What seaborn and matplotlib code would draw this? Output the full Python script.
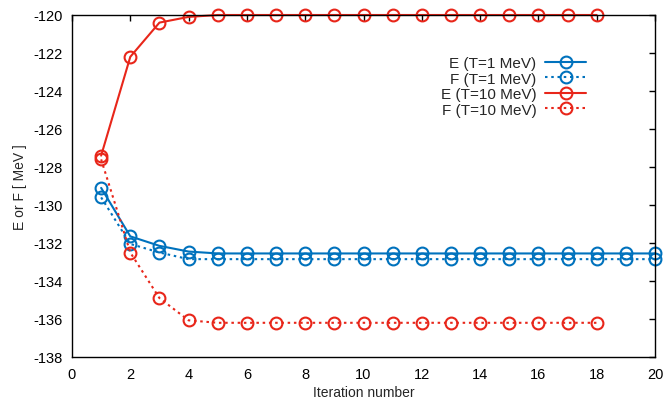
import numpy as np
import pandas as pd
import matplotlib
matplotlib.use("Agg")
import matplotlib.pyplot as plt
import seaborn as sns

iter_t1 = list(range(1, 21))
iter_t10 = list(range(1, 19))

E_T1 = [-129.1, -131.65, -132.15, -132.45] + [-132.55] * 16
F_T1 = [-129.6, -132.05, -132.5, -132.85] + [-132.85] * 16
E_T10 = [-127.4, -122.2, -120.4, -120.1] + [-120.0] * 14
F_T10 = [-127.6, -132.5, -134.9, -136.07] + [-136.2] * 14

labels = ["E (T=1 MeV)", "F (T=1 MeV)", "E (T=10 MeV)", "F (T=10 MeV)"]
xticks = list(range(0, 21, 2))
yticks = list(range(-138, -119, 2))

sns.set_theme(style="white")
plt.rcParams['font.family'] = ['Liberation Sans', 'DejaVu Sans']
plt.rcParams['axes.unicode_minus'] = False

fig = plt.figure(figsize=(6.63, 4.02), dpi=100)
ax = fig.add_axes([72/663, 1-358/402, (655-72)/663, (358-16)/402])

blue = "#0072bd"
red = "#e8261a"
series = [
    (iter_t1, E_T1, labels[0], blue, "-"),
    (iter_t1, F_T1, labels[1], blue, (0, (1.2, 1.8))),
    (iter_t10, E_T10, labels[2], red, "-"),
    (iter_t10, F_T10, labels[3], red, (0, (1.2, 1.8))),
]
for xs, ys, lab, col, ls in series:
    df = pd.DataFrame({"x": xs, "y": ys})
    sns.lineplot(data=df, x="x", y="y", ax=ax, color=col, linestyle=ls,
                 linewidth=1.5, marker="o", markersize=8.5,
                 markerfacecolor="none", markeredgecolor=col,
                 markeredgewidth=1.5, label=lab, clip_on=False)

ax.set_xlim(0, 20)
ax.set_ylim(-138, -120)
ax.set_xticks(xticks)
ax.set_yticks(yticks)
ax.set_xlabel("Iteration number", fontsize=10, labelpad=3)
ax.set_ylabel("E or F [ MeV ]", fontsize=10)
ax.tick_params(direction="in", top=True, right=True, length=4, width=1,
               labelsize=10.5, color="black", labelcolor="black", pad=7)
for s in ax.spines.values():
    s.set_color("black")
    s.set_linewidth(1.0)

leg = ax.legend(loc="upper right", bbox_to_anchor=(0.882, 0.880), frameon=False,
                markerfirst=False, fontsize=11, handlelength=2.7,
                labelspacing=0.1, handletextpad=0.55, borderaxespad=0,
                borderpad=0)
for t in leg.get_texts():
    t.set_ha("right")

fig.savefig("out.png", dpi=100)
